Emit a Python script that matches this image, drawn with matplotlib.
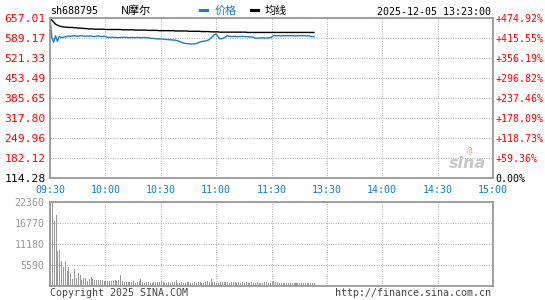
import numpy as np
import matplotlib.pyplot as plt

plt.rcParams['font.family'] = ['DejaVu Sans Mono', 'Noto Sans CJK SC']

# 分时数据 (每分钟一个点, 09:30 起, 午休合并)
price = [657, 591, 575, 597, 578, 594, 591, 591, 593, 594,
         596, 595, 596, 597, 596, 595, 596, 597, 596, 595,
         596, 595, 596, 595, 594, 595, 596, 595, 594, 595,
         594, 592, 591, 591, 592, 591, 591, 590, 591, 591,
         592, 591, 591, 590, 591, 591, 590, 591, 591, 590,
         590, 591, 590, 590, 589, 588, 588, 587, 586, 586,
         586, 585, 585, 584, 584, 583, 583, 582, 582, 580,
         578, 575, 573, 571, 570, 570, 569, 569, 569, 570,
         572, 575, 577, 578, 579, 580, 583, 588, 594, 600,
         603, 594, 586, 587, 589, 592, 597, 595, 594, 594,
         595, 594, 594, 594, 595, 594, 594, 594, 593, 593,
         592, 589, 589, 589, 589, 590, 589, 589, 589, 590,
         592, 597, 597, 597, 597, 596, 597, 597, 597, 597,
         597, 597, 597, 596, 597, 597, 597, 597, 597, 596,
         597, 595, 594, 594]
avg = [657, 650, 643, 636, 633, 630, 628, 627, 626, 626,
       625, 625, 625, 624, 624, 623, 623, 622, 622, 621,
       621, 620, 620, 620, 619, 619, 619, 619, 619, 619,
       618, 618, 618, 618, 618, 618, 618, 618, 618, 617,
       617, 617, 617, 617, 617, 617, 616, 616, 616, 616,
       616, 616, 616, 615, 615, 615, 615, 615, 615, 614,
       614, 614, 614, 614, 614, 614, 614, 614, 613, 613,
       613, 613, 613, 613, 613, 612, 612, 612, 612, 612,
       612, 612, 611, 611, 611, 611, 611, 610, 610, 610,
       610, 610, 609, 609, 609, 609, 609, 609, 609, 609,
       609, 609, 609, 609, 609, 609, 609, 608, 608, 608,
       608, 608, 608, 608, 608, 608, 608, 608, 608, 608,
       608, 608, 608, 608, 608, 608, 608, 608, 608, 608,
       608, 608, 608, 608, 608, 608, 608, 608, 608, 608,
       608, 608, 608, 608]
volume = [22360, 22360, 17290, 18890, 9310, 9580, 6650, 5140, 6650, 3990,
          5140, 3370, 1860, 4520, 2220, 3370, 2930, 1600, 2040, 2040,
          1330, 1860, 2480, 1860, 1600, 1600, 1600, 1600, 1600, 1330,
          1330, 1330, 1330, 1330, 1330, 1600, 1330, 1600, 2930, 1330,
          1150, 980, 1150, 980, 980, 1330, 890, 980, 1330, 1860,
          980, 710, 980, 980, 710, 710, 980, 980, 1150, 980,
          1330, 980, 710, 890, 980, 710, 1150, 980, 1600, 890,
          710, 980, 890, 710, 1150, 980, 710, 890, 980, 710,
          980, 1150, 890, 710, 980, 1420, 1070, 1860, 1070, 980,
          890, 710, 1070, 1070, 980, 1150, 1070, 890, 980, 1150,
          1070, 710, 980, 890, 1070, 710, 980, 710, 890, 980,
          710, 890, 980, 710, 890, 710, 980, 1070, 710, 890,
          1150, 1420, 980, 1070, 890, 710, 710, 890, 710, 710,
          890, 710, 710, 890, 710, 710, 890, 710, 710, 890,
          710, 710, 890, 710]

time_labels = ['09:30', '10:00', '10:30', '11:00', '11:30',
               '13:30', '14:00', '14:30', '15:00']
price_ticks = [114.28, 182.12, 249.96, 317.80, 385.65, 453.49, 521.33, 589.17, 657.01]
pct_labels = ['0.00%', '+59.36%', '+118.73%', '+178.09%', '+237.46%',
              '+296.82%', '+356.19%', '+415.55%', '+474.92%']
vol_ticks = [0, 5590, 11180, 16770, 22360]

W, H = 545, 300
fig = plt.figure(figsize=(W / 100, H / 100), dpi=100)

def fx(x):
    return x / W

def fy(y):
    return 1 - y / H

ax = fig.add_axes([fx(50), fy(178), 443 / W, 160 / H])
axv = fig.add_axes([fx(50), fy(286), 443 / W, 84 / H])

m = np.arange(len(price))
ax.plot(m, avg, color='black', lw=1.0)
ax.plot(m, price, color='#1a7ec8', lw=1.0)
ax.set_xlim(0, 240)
ax.set_ylim(price_ticks[0], price_ticks[-1])

axv.bar(np.arange(len(volume)), volume, width=0.55, color='#999999', align='edge')
axv.set_xlim(0, 240)
axv.set_ylim(0, vol_ticks[-1])

grid_kw = dict(color='#b4b4b4', lw=0.75, linestyle=(0, (1, 1.3)))
for a in (ax, axv):
    for s in a.spines.values():
        s.set_color('#999999')
        s.set_linewidth(1.3)
    a.set_xticks(range(0, 241, 30))
    a.grid(True, **grid_kw)
    a.set_axisbelow(True)
    a.tick_params(length=0)

# 价格轴
ax.set_yticks(price_ticks)
ax.set_yticklabels(['%.2f' % v for v in price_ticks], fontsize=8.2)
for i, t in enumerate(ax.get_yticklabels()):
    t.set_color('black' if i == 0 else 'red')
ax.tick_params(axis='y', pad=3)
ax.set_xticklabels(time_labels, fontsize=7.2, color='#0f7fcf')
ax.tick_params(axis='x', pad=5)

ax2 = ax.twinx()
ax2.set_ylim(price_ticks[0], price_ticks[-1])
ax2.set_yticks(price_ticks)
ax2.set_yticklabels(pct_labels, fontsize=7.2)
for i, t in enumerate(ax2.get_yticklabels()):
    t.set_color('black' if i == 0 else 'red')
ax2.tick_params(length=0, pad=2)
for s in ax2.spines.values():
    s.set_visible(False)

# 成交量轴
axv.set_yticks(vol_ticks)
axv.set_yticklabels([''] + [str(v) for v in vol_ticks[1:]], fontsize=7.2, color='#999999')
axv.tick_params(axis='y', pad=4)
axv.set_xticklabels([])

# 标题行
fig.text(fx(50), fy(11), 'sh688795', fontsize=7.2, va='center', ha='left')
fig.text(fx(121), fy(11), 'N摩尔', fontsize=8, va='center', ha='left',
         family=['Noto Sans CJK SC', 'DejaVu Sans'])
fig.add_artist(plt.Line2D([fx(200), fx(207)], [fy(10), fy(10)], color='#1a7ec8', lw=2.2))
fig.text(fx(215), fy(11), '价格', fontsize=8, va='center', ha='left', color='#1a7ec8',
         family=['Noto Sans CJK SC', 'DejaVu Sans'])
fig.add_artist(plt.Line2D([fx(251), fx(258)], [fy(10), fy(10)], color='black', lw=2.2))
fig.text(fx(265), fy(11), '均线', fontsize=8, va='center', ha='left',
         family=['Noto Sans CJK SC', 'DejaVu Sans'])
fig.text(fx(491), fy(12), '2025-12-05 13:23:00', fontsize=7.2, va='center', ha='right')

# 水印
fig.text(fx(467), fy(163), 'sina', fontsize=11.5, style='italic', weight='bold',
         color='#c8c8c8', ha='center', va='center', family='DejaVu Sans')
fig.text(fx(470), fy(151), '@', fontsize=6.5, color='#f0a0a0', ha='center', va='center')

# 底部
fig.text(fx(50), fy(293), 'Copyright 2025 SINA.COM', fontsize=7.2, va='center',
         ha='left', color='#444444')
fig.text(fx(491), fy(293), 'http://finance.sina.com.cn', fontsize=7.2, va='center',
         ha='right', color='#444444')

fig.savefig('out.png', dpi=100)
